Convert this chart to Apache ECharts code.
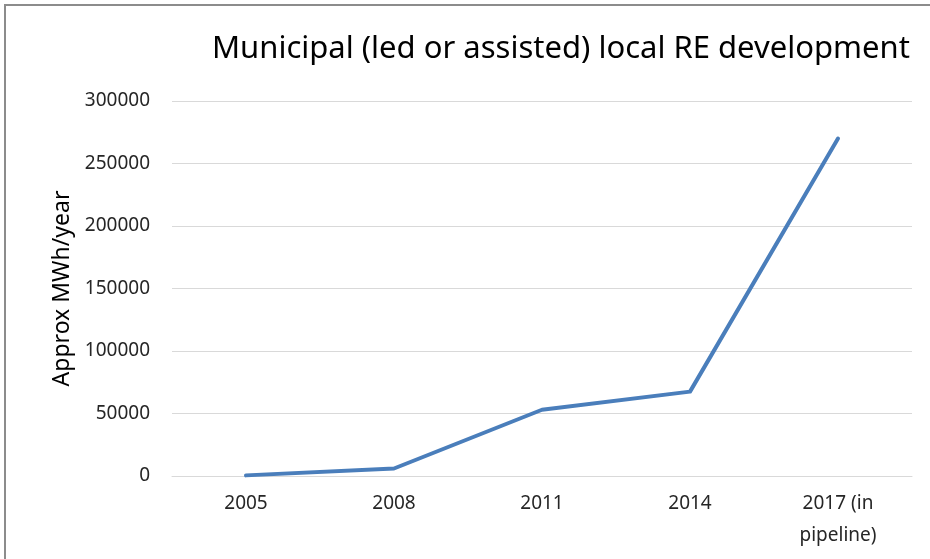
<!DOCTYPE html>
<html>
<head>
<meta charset="utf-8">
<script src="https://cdn.jsdelivr.net/npm/echarts@6/dist/echarts.min.js"></script>
<style>
  html, body { margin: 0; padding: 0; background: #fff; }
  #chart { width: 930px; height: 559px; }
  #frame { position: absolute; left: 4px; top: 4px; width: 940px; height: 600px; border: 2px solid #8c8c8c; box-sizing: border-box; pointer-events: none; }
</style>
</head>
<body>
<div id="chart"></div>
<div id="frame"></div>
<script>
// Years of local renewable-energy output (2017 still in the pipeline)
const categories = ['2005', '2008', '2011', '2014', '2017 (in\npipeline)'];
const mwhPerYear = [500, 6000, 53000, 67500, 270000];
const yTicks = { min: 0, max: 300000, step: 50000 };

const font = '"Noto Sans", sans-serif';
const chart = echarts.init(document.getElementById('chart'), null, { renderer: 'canvas' });
chart.setOption({
  animation: false,
  title: {
    text: 'Municipal (led or assisted) local RE development',
    left: 207, top: 29,
    textStyle: { fontFamily: font, fontSize: 31, fontWeight: 'normal', color: '#000' }
  },
  grid: { left: 172, right: 18, top: 101, bottom: 83 },
  xAxis: {
    type: 'category',
    data: categories,
    boundaryGap: true,
    axisLine: { lineStyle: { color: '#d9d9d9', width: 1 } },
    axisTick: { show: false },
    axisLabel: { color: '#262626', fontFamily: font, fontSize: 19, margin: 12, lineHeight: 32 }
  },
  yAxis: {
    type: 'value',
    min: yTicks.min, max: yTicks.max, interval: yTicks.step,
    name: 'Approx MWh/year',
    nameLocation: 'middle',
    nameGap: 98,
    nameTextStyle: { color: '#000', fontFamily: font, fontSize: 23 },
    axisLine: { show: false },
    axisTick: { show: false },
    splitLine: { lineStyle: { color: '#d9d9d9', width: 1 } },
    axisLabel: { color: '#262626', fontFamily: font, fontSize: 19, margin: 22, formatter: v => String(v) }
  },
  series: [{
    type: 'line',
    data: mwhPerYear,
    symbol: 'none',
    lineStyle: { color: '#4a7ebb', width: 4, cap: 'round', join: 'round' }
  }]
});
</script>
</body>
</html>
